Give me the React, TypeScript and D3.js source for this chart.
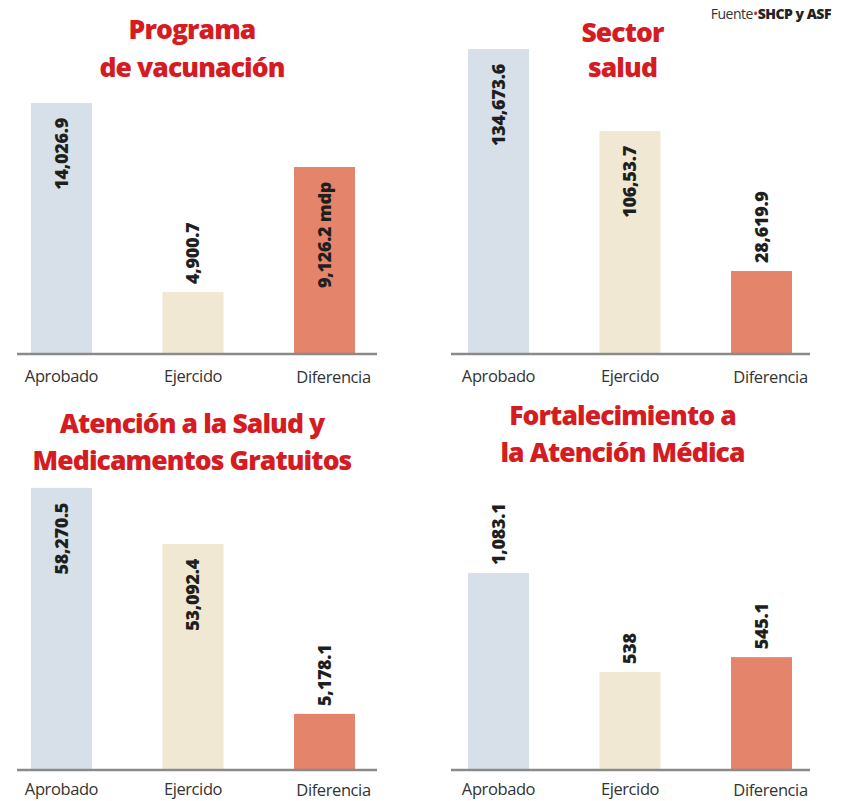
import React from "react";
import * as d3 from "d3";

// ---- Data ----
const categories = ["Aprobado", "Ejercido", "Diferencia"];

const vacunacionTitle = ["Programa", "de vacunación"];
const vacunacionValues = [14026.9, 4900.7, 9126.2];
const vacunacionLabels = ["14,026.9", "4,900.7", "9,126.2 mdp"];
// the infographic's bars are not drawn to scale: relative bar lengths as drawn (tallest bar of all = 100)
const vacunacionDrawn = [82.3, 20.3, 61.3];

const sectorTitle = ["Sector", "salud"];
const sectorValues = [134673.6, 106053.7, 28619.9];
const sectorLabels = ["134,673.6", "106,53.7", "28,619.9"];
const sectorDrawn = [100, 73.1, 27.2];

const atencionTitle = ["Atención a la Salud y", "Medicamentos Gratuitos"];
const atencionValues = [58270.5, 53092.4, 5178.1];
const atencionLabels = ["58,270.5", "53,092.4", "5,178.1"];
const atencionDrawn = [92.5, 74.1, 18.4];

const fortalecimientoTitle = ["Fortalecimiento a", "la Atención Médica"];
const fortalecimientoValues = [1083.1, 538, 545.1];
const fortalecimientoLabels = ["1,083.1", "538", "545.1"];
const fortalecimientoDrawn = [64.6, 32.1, 37.0];

const sourceLabel = "Fuente";
const sourceName = "SHCP y ASF";

// ---- Styles / layout ----
const W = 853;
const H = 801;
const barColors = ["#d7e0e8", "#f0e8d3", "#e3846b"];
const titleRed = "#d41c22";
const FONT = "'Open Sans', 'Noto Sans', sans-serif";

const panels = [
  { title: vacunacionTitle, values: vacunacionValues, labels: vacunacionLabels, drawn: vacunacionDrawn,
    inside: [true, false, true], col: 0, row: 0, titleY: [39, 77] },
  { title: sectorTitle, values: sectorValues, labels: sectorLabels, drawn: sectorDrawn,
    inside: [true, true, false], col: 1, row: 0, titleY: [42, 77] },
  { title: atencionTitle, values: atencionValues, labels: atencionLabels, drawn: atencionDrawn,
    inside: [true, true, false], col: 0, row: 1, titleY: [433, 470] },
  { title: fortalecimientoTitle, values: fortalecimientoValues, labels: fortalecimientoLabels, drawn: fortalecimientoDrawn,
    inside: [false, false, false], col: 1, row: 1, titleY: [425, 462] },
];

const colBand = [[31, 355], [468, 792]];
const colLine = [[17, 377], [451, 810]];
const colTitleX = [192, 622.5];
const rowBase = [354, 770];
const rowLabelGap = [28, 25];
const maxBarPx = 305;
const labelDx = [0, 0, 9];

function Panel({ p }: { p: any }) {
  const base = rowBase[p.row];
  const x = d3.scaleBand<string>().domain(categories).range(colBand[p.col] as [number, number])
    .paddingInner(0.536).paddingOuter(0);
  const y = d3.scaleLinear().domain([0, 100]).range([base, base - maxBarPx]);
  const bw = x.bandwidth();
  return (
    <g>
      {p.title.map((t: string, i: number) => (
        <text key={i} x={colTitleX[p.col]} y={p.titleY[i]} textAnchor="middle"
          fontFamily={FONT} fontWeight={800} fontSize={26.5} letterSpacing={-0.9} fill={titleRed}>{t}</text>
      ))}
      {categories.map((c, i) => {
        const top = y(p.drawn[i]);
        return (
          <rect key={c} x={x(c)} y={top} width={bw} height={base - top} fill={barColors[i]} />
        );
      })}
      <line x1={colLine[p.col][0]} x2={colLine[p.col][1]} y1={base} y2={base} stroke="#8a8a8a" strokeWidth={2.6} />
      {categories.map((c, i) => {
        const top = y(p.drawn[i]);
        const cx = (x(c) as number) + bw / 2;
        const inside = p.inside[i];
        const ay = inside ? top + 15 : top - 8;
        return (
          <text key={"v" + c} transform={`translate(${cx},${ay}) rotate(-90)`} dy="0.36em"
            textAnchor={inside ? "end" : "start"} fontFamily={FONT} fontWeight={800} fontSize={18}
            letterSpacing={-0.3} fill="#1f1f1f">{p.labels[i]}</text>
        );
      })}
      {categories.map((c, i) => (
        <text key={"l" + c} x={(x(c) as number) + bw / 2 + labelDx[i]}
          y={base + rowLabelGap[p.row] + (i === 2 ? 1 : 0)}
          textAnchor="middle" fontFamily={FONT} fontSize={16.5} letterSpacing={-0.4} fill="#333">{c}</text>
      ))}
    </g>
  );
}

export default function App() {
  return (
    <svg width={W} height={H} viewBox={`0 0 ${W} ${H}`}
      style={{ position: "absolute", left: 0, top: 0, background: "#fff" }}>
      <rect width={W} height={H} fill="#fff" />
      <text x={831} y={19} textAnchor="end" fontFamily={FONT} fontSize={14} letterSpacing={-0.5}>
        <tspan fill="#333">{sourceLabel}</tspan>
        <tspan fill={titleRed}>•</tspan>
        <tspan fill="#222" fontWeight={800}>{sourceName}</tspan>
      </text>
      {panels.map((p, i) => <Panel key={i} p={p} />)}
    </svg>
  );
}
